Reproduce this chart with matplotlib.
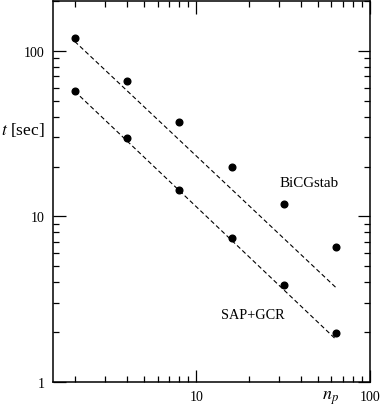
import matplotlib.pyplot as plt
from matplotlib.ticker import LogLocator, NullFormatter, FixedLocator, FixedFormatter

plt.rcParams['font.family'] = ['Liberation Serif', 'DejaVu Serif']
plt.rcParams['mathtext.fontset'] = 'stix'

# number of processes
n_procs = [2, 4, 8, 16, 32, 64]
# timings in seconds
t_bicgstab = [119, 66, 37, 20.0, 11.9, 6.5]
t_sapgcr = [57, 29.6, 14.5, 7.4, 3.85, 1.98]

# dashed ideal scaling lines (end points)
fit_np = [2, 64]
fit_bicgstab = [114, 3.7]
fit_sapgcr = [57, 1.8]

fig = plt.figure(figsize=(3.82, 4.10), dpi=100)
ax = fig.add_axes([53/382, 27/410, 317/382, 381/410])

ax.plot(fit_np, fit_bicgstab, ls=(0, (4, 2.5)), color='black', lw=0.8)
ax.plot(fit_np, fit_sapgcr, ls=(0, (4, 2.5)), color='black', lw=0.8)
ax.plot(n_procs, t_bicgstab, 'o', color='black', ms=4.8)
ax.plot(n_procs, t_sapgcr, 'o', color='black', ms=4.8)

ax.set_xscale('log')
ax.set_yscale('log')
ax.set_xlim(1.5, 100)
ax.set_ylim(1, 200)

ax.xaxis.set_major_locator(FixedLocator([10, 100]))
ax.xaxis.set_major_formatter(FixedFormatter(['10', '100']))
ax.yaxis.set_major_locator(FixedLocator([1, 10, 100]))
ax.yaxis.set_major_formatter(FixedFormatter(['1', '10', '100']))
ax.xaxis.set_minor_locator(LogLocator(base=10, subs=range(2, 10)))
ax.yaxis.set_minor_locator(LogLocator(base=10, subs=range(2, 10)))
ax.xaxis.set_minor_formatter(NullFormatter())
ax.yaxis.set_minor_formatter(NullFormatter())

ax.tick_params(which='both', direction='in', top=True, right=True,
               labelsize=10, width=0.9)
ax.tick_params(which='major', length=9, pad=6)
ax.tick_params(which='minor', length=4.5)
for s in ax.spines.values():
    s.set_linewidth(1.1)

ax.text(44.4, 16.0, 'BiCGstab', ha='center', va='center', fontsize=10.8)
ax.text(21.2, 2.57, 'SAP+GCR', ha='center', va='center', fontsize=10.3)
ax.text(-0.095, 0.664, r'$t$ [sec]', transform=ax.transAxes,
        ha='center', va='center', fontsize=12.5)
ax.text(0.874, -0.039, r'$n_p$', transform=ax.transAxes,
        ha='center', va='center', fontsize=13)

fig.savefig('out.png', dpi=100)
